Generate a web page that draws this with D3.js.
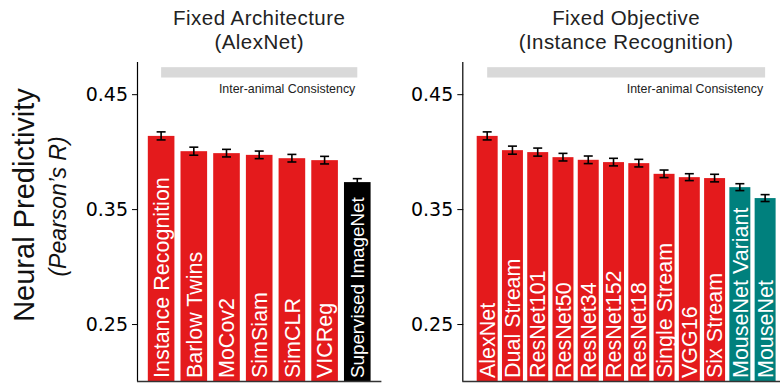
<!DOCTYPE html>
<html>
<head>
<meta charset="utf-8">
<script src="https://cdn.jsdelivr.net/npm/d3@7"></script>
<style>
  html, body { margin: 0; padding: 0; background: #fff; }
  svg { display: block; }
</style>
</head>
<body>
<svg id="chart" width="780" height="383"></svg>
<script>
// ---- data ----
const archNames = ["Instance Recognition", "Barlow Twins", "MoCov2", "SimSiam", "SimCLR", "VICReg", "Supervised ImageNet"];
const archValues = [0.4137, 0.4004, 0.3987, 0.3972, 0.3943, 0.3926, 0.3735];
const archErrors = [0.0035, 0.0035, 0.0033, 0.0033, 0.0033, 0.0033, 0.0030];
const archGroups = ["ssl", "ssl", "ssl", "ssl", "ssl", "ssl", "supervised"];

const objNames = ["AlexNet", "Dual Stream", "ResNet101", "ResNet50", "ResNet34", "ResNet152", "ResNet18", "Single Stream", "VGG16", "Six Stream", "MouseNet Variant", "MouseNet"];
const objValues = [0.4137, 0.4013, 0.3996, 0.3952, 0.3929, 0.3909, 0.3900, 0.3807, 0.3778, 0.3770, 0.3691, 0.3596];
const objErrors = [0.0035, 0.0035, 0.0035, 0.0033, 0.0033, 0.0033, 0.0033, 0.0033, 0.0030, 0.0033, 0.0030, 0.0030];
const objGroups = ["ssl", "ssl", "ssl", "ssl", "ssl", "ssl", "ssl", "ssl", "ssl", "ssl", "mousenet", "mousenet"];

const consistencyValue = 0.469;
const consistencySem = 0.0045;

const yTicks = [0.25, 0.35, 0.45];
const yDomain = [0.2, 0.478];

const colors = { ssl: "#e41a1c", supervised: "#000000", mousenet: "#00807d" };

// ---- layout ----
const svg = d3.select("#chart");
const yTop = 62, yBottom = 381.5;
const y = d3.scaleLinear().domain(yDomain).range([yBottom, yTop]);

const panels = [
  { title: ["Fixed Architecture", "(AlexNet)"], names: archNames, values: archValues, errors: archErrors, groups: archGroups,
    x0: 138, x1: 380.4, padInner: 0.186, padOuter: 0.3 },
  { title: ["Fixed Objective", "(Instance Recognition)"], names: objNames, values: objValues, errors: objErrors, groups: objGroups,
    x0: 463.3, x1: 789, padInner: 0.17, padOuter: 0.53 }
];

panels.forEach(p => {
  const g = svg.append("g");
  const x = d3.scaleBand().domain(p.names).range([p.x0, p.x1])
    .paddingInner(p.padInner).paddingOuter(p.padOuter);

  // title
  const cx = (p.x0 + p.x1) / 2;
  p.title.forEach((t, i) => {
    g.append("text")
      .attr("x", cx).attr("y", 24.5 + i * 24)
      .attr("text-anchor", "middle")
      .style("font-family", "'Liberation Sans', Arial, Helvetica, sans-serif")
      .style("font-size", "20.5px")
      .style("letter-spacing", "0.45px")
      .style("fill", "#222")
      .text(t);
  });

  // inter-animal consistency band, from first to last bar centre
  const firstC = x(p.names[0]) + x.bandwidth() / 2;
  const lastC = x(p.names[p.names.length - 1]) + x.bandwidth() / 2;
  g.append("rect")
    .attr("x", firstC).attr("width", lastC - firstC)
    .attr("y", y(consistencyValue + consistencySem))
    .attr("height", y(consistencyValue - consistencySem) - y(consistencyValue + consistencySem))
    .attr("fill", "#d9d9d9");
  g.append("text")
    .attr("x", lastC - 2).attr("y", y(consistencyValue - consistencySem) + 15.5)
    .attr("text-anchor", "end")
    .style("font-family", "'Liberation Sans', Arial, Helvetica, sans-serif")
    .style("font-size", "12.4px")
    .style("fill", "#222")
    .text("Inter-animal Consistency");

  // bars
  const rows = p.names.map((n, i) => ({ name: n, value: p.values[i], err: p.errors[i], group: p.groups[i] }));
  g.selectAll("rect.bar").data(rows).join("rect")
    .attr("class", "bar")
    .attr("x", d => x(d.name))
    .attr("width", x.bandwidth())
    .attr("y", d => y(d.value))
    .attr("height", d => yBottom - y(d.value))
    .attr("fill", d => colors[d.group]);

  // error bars
  const eb = g.selectAll("g.err").data(rows).join("g").attr("class", "err")
    .attr("stroke", "#000").attr("stroke-width", 1.6);
  const capW = 4.5;
  eb.append("line")
    .attr("x1", d => x(d.name) + x.bandwidth() / 2).attr("x2", d => x(d.name) + x.bandwidth() / 2)
    .attr("y1", d => y(d.value + d.err)).attr("y2", d => y(d.value - d.err));
  [1, -1].forEach(s => {
    eb.append("line")
      .attr("x1", d => x(d.name) + x.bandwidth() / 2 - capW).attr("x2", d => x(d.name) + x.bandwidth() / 2 + capW)
      .attr("y1", d => y(d.value + s * d.err)).attr("y2", d => y(d.value + s * d.err));
  });

  // in-bar labels
  const capH = 0.716;
  g.selectAll("text.lbl").data(rows).join("text")
    .attr("class", "lbl")
    .each(function (d) {
      const fs = d.name === "Supervised ImageNet" ? 18.8 : 21.5;
      const bx = x(d.name) + x.bandwidth() / 2 + fs * capH / 2;
      d3.select(this)
        .attr("transform", `translate(${bx},${yBottom - 3.5}) rotate(-90)`)
        .style("font-size", fs + "px");
    })
    .style("font-family", "'Liberation Sans', Arial, Helvetica, sans-serif")
    .style("fill", "#fff")
    .text(d => d.name);

  // y axis
  const yAxis = d3.axisLeft(y).tickValues(yTicks).tickFormat(d3.format(".2f")).tickSize(6).tickPadding(4);
  const ya = g.append("g").attr("transform", `translate(${p.x0},0)`).call(yAxis);
  ya.select(".domain").attr("d", `M-0.5,${yTop}V${yBottom}`).attr("stroke", "#000").attr("stroke-width", 1.2);
  ya.selectAll(".tick line").attr("stroke", "#000").attr("stroke-width", 1);
  ya.selectAll(".tick text")
    .style("font-family", "'DejaVu Sans', sans-serif")
    .style("font-size", "19px")
    .attr("fill", "#000");

  // x axis baseline
  const xAxis = d3.axisBottom(x).tickSize(0).tickFormat("");
  const xa = g.append("g").attr("transform", `translate(0,${yBottom})`).call(xAxis);
  xa.select(".domain").attr("d", `M${p.x0 - 1},0H${p.x1 + 1}`).attr("stroke", "#333").attr("stroke-width", 1.6);
});

// y-axis title
svg.append("text")
  .attr("transform", "translate(34,205) rotate(-90)")
  .attr("text-anchor", "middle")
  .style("font-family", "'Liberation Sans', Arial, Helvetica, sans-serif")
  .style("font-size", "29px")
  .style("fill", "#111")
  .text("Neural Predictivity");
svg.append("text")
  .attr("transform", "translate(66,206.5) rotate(-90)")
  .attr("text-anchor", "middle")
  .style("font-family", "'Liberation Sans', Arial, Helvetica, sans-serif")
  .style("font-size", "23px")
  .style("font-style", "italic")
  .style("fill", "#111")
  .text("(Pearson\u2019s R)");
</script>
</body>
</html>
